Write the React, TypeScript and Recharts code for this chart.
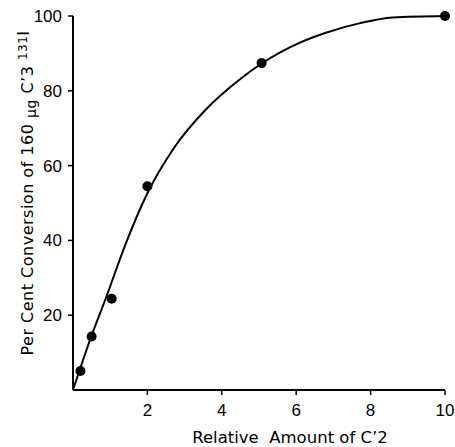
import React from 'react';
import { ComposedChart, Line, Scatter, XAxis, YAxis } from 'recharts';

// measured points
const pointX = [0.2, 0.5, 1.04, 2.0, 5.07, 10];
const pointY = [5.1, 14.3, 24.4, 54.5, 87.4, 100];

// smooth curve
const curveX = [0, 0.49, 0.9, 1.39, 1.98, 2.7, 3.59, 4.49, 5.07, 6.1, 6.82, 7.72, 8.6, 10];
const curveY = [0, 14.3, 25.0, 38.4, 52.2, 64.5, 75.2, 83.1, 87.3, 92.9, 95.6, 98.1, 99.6, 100];

const xTicks = [2, 4, 6, 8, 10];
const yTicks = [20, 40, 60, 80, 100];

const font = '"Liberation Sans", Arial, sans-serif';
const titleFont = '"DejaVu Sans", sans-serif';

const points = pointX.map((x, i) => ({ x, y: pointY[i] }));
const curve = curveX.map((x, i) => ({ x, y: curveY[i] }));

const XTitle = (props: any) => {
  const { viewBox } = props;
  return (
    <text
      x={viewBox.x + viewBox.width / 2 + 31}
      y={viewBox.y + 53}
      textAnchor="middle"
      fontFamily={titleFont}
      fontSize={16.5}
      fill="#000"
      style={{ whiteSpace: 'pre' }}
    >
      {'Relative  Amount of C\u20192'}
    </text>
  );
};

const YTitle = (props: any) => {
  const { viewBox } = props;
  const cx = 33;
  const cy = viewBox.y + viewBox.height / 2 - 10;
  return (
    <text
      x={cx}
      y={cy}
      transform={`rotate(-90, ${cx}, ${cy})`}
      textAnchor="middle"
      fontFamily={titleFont}
      fontSize={16}
      letterSpacing={0.5}
      fill="#000"
    >
      <tspan>Per Cent Conversion of 160 </tspan>
      <tspan fontSize={14} dy={3}>&#956;g</tspan>
      <tspan dy={-3}> C&#8217;3 </tspan>
      <tspan fontSize={12} dy={-6}>131</tspan>
      <tspan dy={2}>I</tspan>
    </text>
  );
};

export default function App() {
  return (
    <div style={{ position: 'absolute', left: 0, top: 0, background: '#fff' }}>
      <ComposedChart width={455} height={447} margin={{ top: 16, right: 10, left: 0, bottom: 0 }}>
        <XAxis
          type="number"
          dataKey="x"
          domain={[0, 10]}
          ticks={xTicks}
          height={57}
          axisLine={{ stroke: '#000', strokeWidth: 2 }}
          tickLine={{ stroke: '#000', strokeWidth: 1.5 }}
          tickSize={5}
          tickMargin={9}
          tick={{ fill: '#000', fontSize: 17, fontFamily: font }}
          label={<XTitle />}
        />
        <YAxis
          type="number"
          dataKey="y"
          domain={[0, 100]}
          ticks={yTicks}
          width={73}
          axisLine={{ stroke: '#000', strokeWidth: 2 }}
          tickLine={{ stroke: '#000', strokeWidth: 1.5 }}
          tickSize={5}
          tickMargin={6}
          tick={{ fill: '#000', fontSize: 17, fontFamily: font }}
          label={<YTitle />}
        />
        <Line
          data={curve}
          dataKey="y"
          type="monotone"
          stroke="#000"
          strokeWidth={2}
          dot={false}
          activeDot={false}
          isAnimationActive={false}
        />
        <Scatter
          data={points}
          dataKey="y"
          fill="#000"
          shape={(p: any) => <circle cx={p.cx} cy={p.cy} r={5} fill="#000" />}
          isAnimationActive={false}
        />
      </ComposedChart>
    </div>
  );
}
